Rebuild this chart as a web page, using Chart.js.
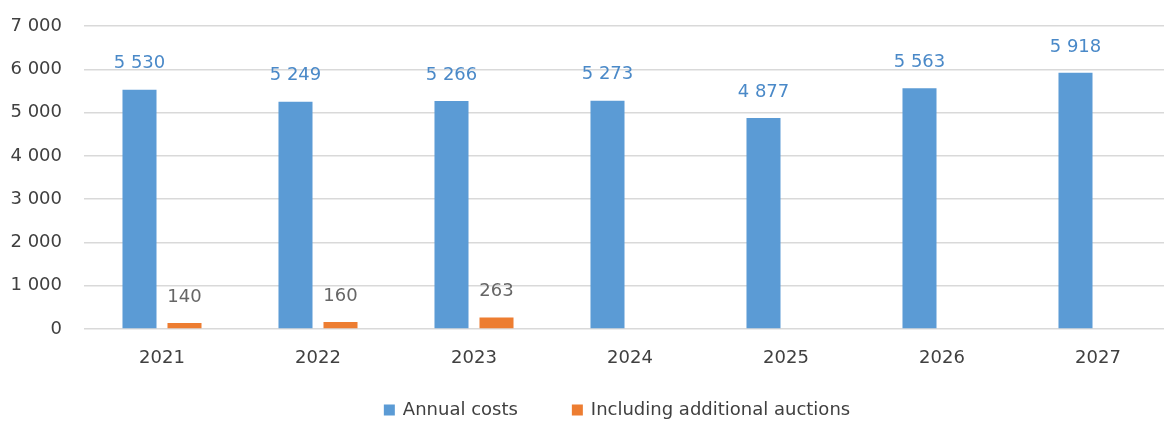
<!DOCTYPE html>
<html>
<head>
<meta charset="utf-8">
<script src="https://cdn.jsdelivr.net/npm/chart.js@4/dist/chart.umd.min.js"></script>
<style>
  html, body { margin: 0; padding: 0; background: #fff; overflow: hidden; }
  #wrap { width: 1180px; height: 421px; }
</style>
</head>
<body>
<div id="wrap"><canvas id="chart" width="1180" height="421"></canvas></div>
<script>
const years = ["2021", "2022", "2023", "2024", "2025", "2026", "2027"];
const annualCosts = [5530, 5249, 5266, 5273, 4877, 5563, 5918];
const additionalAuctions = [140, 160, 263, null, null, null, null];
const yTicks = [0, 1000, 2000, 3000, 4000, 5000, 6000, 7000];

const FONT = "'DejaVu Sans', sans-serif";
const fmt = (v) => String(v).replace(/\B(?=(\d{3})+(?!\d))/g, " ");

// value labels above each bar
const valueLabels = {
  id: "valueLabels",
  afterDatasetsDraw(chart) {
    const ctx = chart.ctx;
    ctx.save();
    ctx.font = "18px " + FONT;
    ctx.textAlign = "center";
    ctx.textBaseline = "middle";
    chart.data.datasets.forEach((ds, i) => {
      chart.getDatasetMeta(i).data.forEach((bar, j) => {
        const v = ds.data[j];
        if (v == null) return;
        ctx.fillStyle = ds.labelColor;
        ctx.fillText(fmt(v), bar.x, bar.y - 26);
      });
    });
    ctx.restore();
  }
};

// legend drawn under the axis
const bottomLegend = {
  id: "bottomLegend",
  afterDraw(chart) {
    const ctx = chart.ctx;
    ctx.save();
    ctx.font = "18px " + FONT;
    ctx.textBaseline = "middle";
    const items = chart.data.datasets.map((ds) => ({
      text: ds.label, color: ds.backgroundColor, w: ctx.measureText(ds.label).width
    }));
    const gap = 54, box = 11, space = 8;
    let total = items.reduce((s, it) => s + box + space + it.w, 0) + gap * (items.length - 1);
    let x = 617 - total / 2;
    const y = 410;
    items.forEach((it) => {
      ctx.fillStyle = it.color;
      ctx.fillRect(x, y - box / 2, box, box);
      x += box + space;
      ctx.fillStyle = "#404040";
      ctx.fillText(it.text, x, y);
      x += it.w + gap;
    });
    ctx.restore();
  }
};

new Chart(document.getElementById("chart"), {
  type: "bar",
  data: {
    labels: years,
    datasets: [
      {
        label: "Annual costs",
        data: annualCosts,
        backgroundColor: "#5B9BD5",
        labelColor: "#4A89C8",
        barPercentage: 0.756,
        categoryPercentage: 0.577,
      },
      {
        label: "Including additional auctions",
        data: additionalAuctions,
        backgroundColor: "#ED7D31",
        labelColor: "#666666",
        barPercentage: 0.756,
        categoryPercentage: 0.577,
      },
    ],
  },
  options: {
    responsive: false,
    animation: false,
    layout: { padding: { top: 26, right: 4, bottom: 52, left: 0 } },
    plugins: {
      legend: { display: false },
      tooltip: { enabled: false },
    },
    scales: {
      x: {
        grid: { display: false },
        border: { display: false },
        afterFit: (scale) => { scale.height = 40; },
        ticks: { color: "#404040", font: { family: FONT, size: 18 }, padding: 11 },
      },
      y: {
        min: 0,
        max: 7000,
        afterBuildTicks: (scale) => { scale.ticks = yTicks.map((v) => ({ value: v })); },
        afterFit: (scale) => { scale.width = 84; scale.paddingTop = 0; scale.paddingBottom = 0; },
        grid: { color: "#D9D9D9", lineWidth: 1.5, drawTicks: false },
        border: { display: false },
        ticks: {
          color: "#404040",
          font: { family: FONT, size: 18 },
          padding: 22,
          callback: (v) => fmt(v),
        },
      },
    },
  },
  plugins: [valueLabels, bottomLegend],
});
</script>
</body>
</html>
